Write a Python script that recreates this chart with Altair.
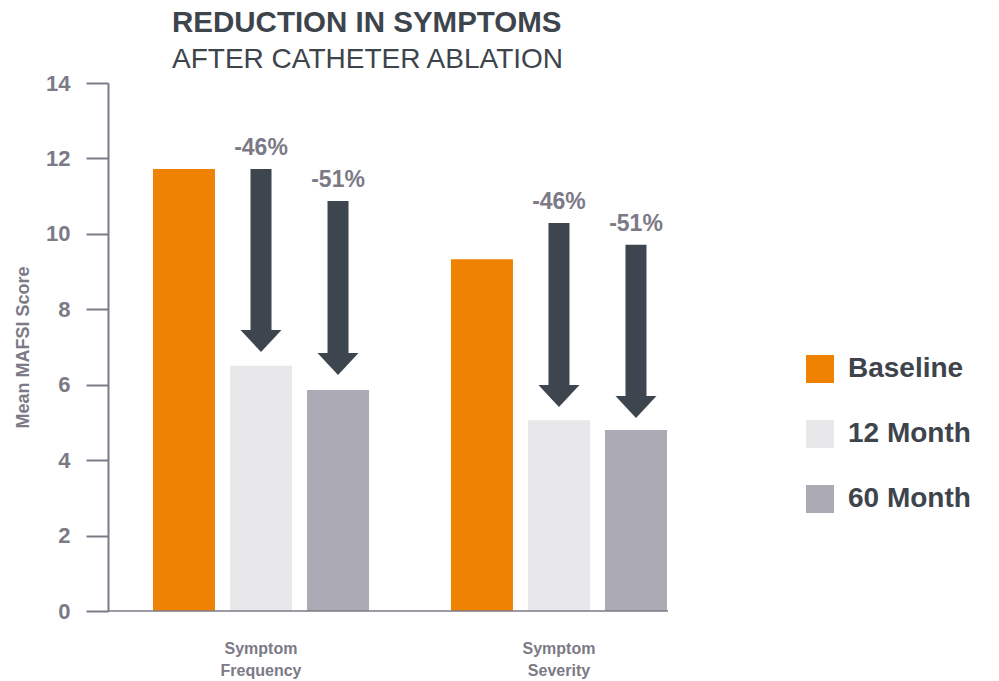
import altair as alt
import pandas as pd

# ---- data ----
categories = ["Symptom Frequency", "Symptom Severity"]
series = ["Baseline", "12 Month", "60 Month"]
baseline = [11.72, 9.33]
month12 = [6.50, 5.06]
month60 = [5.86, 4.80]

arrow_category = ["Symptom Frequency", "Symptom Frequency", "Symptom Severity", "Symptom Severity"]
arrow_series = ["12 Month", "60 Month", "12 Month", "60 Month"]
arrow_start = [11.72, 10.87, 10.29, 9.71]
arrow_tip = [6.87, 6.26, 5.41, 5.12]
arrow_label = ["-46%", "-51%", "-46%", "-51%"]

y_ticks = [0, 2, 4, 6, 8, 10, 12, 14]
colors = ["#ef8200", "#e8e7ea", "#abaab5"]

FONT = "Liberation Sans"
GRAY = "#7b7a86"
DARK = "#3d444c"
ARROW = "#3d454e"
HEAD_LEN = 0.58  # arrow head length in data units

rows = []
for i, c in enumerate(categories):
    for s, vals in zip(series, [baseline, month12, month60]):
        rows.append({"category": c, "series": s, "value": vals[i]})
bars_df = pd.DataFrame(rows)

arrows_df = pd.DataFrame({
    "category": arrow_category,
    "series": arrow_series,
    "start": arrow_start,
    "tip": arrow_tip,
    "label": arrow_label,
})
arrows_df["head_base"] = arrows_df["tip"] + HEAD_LEN

x_enc = alt.X(
    "category:N",
    sort=categories,
    scale=alt.Scale(domain=categories, paddingInner=0.275, paddingOuter=0.0772, align=0.978),
    axis=alt.Axis(
        title=None, domain=False, ticks=False, labelAngle=0,
        labelExpr="split(datum.label, ' ')",
        labelFont=FONT, labelFontSize=16, labelFontWeight="bold", labelColor=GRAY,
        labelPadding=29, labelLineHeight=22,
    ),
)
xoff_enc = alt.XOffset(
    "series:N", sort=series,
    scale=alt.Scale(domain=series, paddingInner=0.195, paddingOuter=0),
)
y_scale = alt.Scale(domain=[0, 14], nice=False)

bars = alt.Chart(bars_df).mark_bar().encode(
    x=x_enc,
    xOffset=xoff_enc,
    y=alt.Y(
        "value:Q", scale=y_scale,
        axis=alt.Axis(
            title="Mean MAFSI Score", values=y_ticks, grid=False,
            domainColor=GRAY, domainWidth=2, tickColor=GRAY, tickWidth=2, tickSize=22,
            labelFont=FONT, labelFontSize=22, labelFontWeight="bold", labelColor=GRAY,
            labelPadding=16,
            titleFont=FONT, titleFontSize=18, titleFontWeight="bold", titleColor=GRAY,
            titlePadding=13,
        ),
    ),
    color=alt.Color(
        "series:N", sort=series,
        scale=alt.Scale(domain=series, range=colors),
        legend=alt.Legend(
            title=None, orient="none", legendX=698, legendY=272,
            symbolType="square", symbolSize=784, symbolStrokeWidth=0,
            labelFont=FONT, labelFontSize=28, labelFontWeight="bold", labelColor=DARK,
            labelOffset=14, rowPadding=37, labelLimit=300,
        ),
    ),
)

zero_line = alt.Chart(pd.DataFrame({"z": [0]})).mark_rule(color=GRAY, strokeWidth=1.5).encode(
    y=alt.Y("z:Q", scale=y_scale)
)

shafts = alt.Chart(arrows_df).mark_rule(color=ARROW, strokeWidth=21, strokeCap="butt").encode(
    x=alt.X("category:N", sort=categories),
    xOffset=alt.XOffset("series:N", sort=series),
    y=alt.Y("start:Q", scale=y_scale),
    y2="head_base:Q",
)

heads = alt.Chart(arrows_df).mark_point(
    shape="M-1,-1.07L1,-1.07L0,0Z", size=1681, filled=True, color=ARROW, opacity=1, strokeWidth=0
).encode(
    x=alt.X("category:N", sort=categories),
    xOffset=alt.XOffset("series:N", sort=series),
    y=alt.Y("tip:Q", scale=y_scale),
)

labels = alt.Chart(arrows_df).mark_text(
    dy=-21, baseline="middle", align="center", font=FONT, fontSize=23, fontWeight="bold", color=GRAY
).encode(
    x=alt.X("category:N", sort=categories),
    xOffset=alt.XOffset("series:N", sort=series),
    y=alt.Y("start:Q", scale=y_scale),
    text="label:N",
)

chart = alt.layer(bars, zero_line, shafts, heads, labels).properties(
    width=560,
    height=528,
    autosize=alt.AutoSizeParams(type="none"),
    padding={"left": 100, "top": 75, "right": 320, "bottom": 70},
    title=alt.TitleParams(
        text="REDUCTION IN SYMPTOMS",
        subtitle="AFTER CATHETER ABLATION",
        anchor="start", dx=64, offset=-3, frame="group",
        font=FONT, fontSize=29.5, fontWeight="bold", color=DARK,
        subtitleFont=FONT, subtitleFontSize=28, subtitleFontWeight="normal",
        subtitleColor=DARK, subtitlePadding=8,
    ),
).configure_view(stroke=None)

chart.save("out.html", embed_options={"renderer": "svg", "actions": False})
